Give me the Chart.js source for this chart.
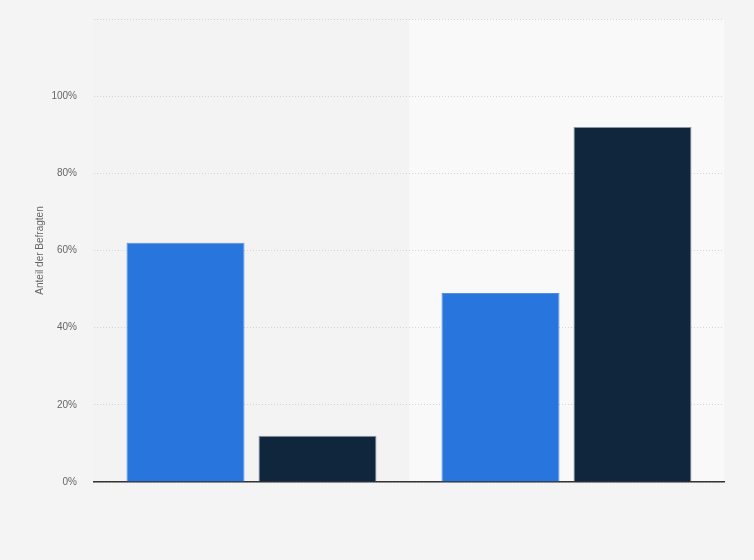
<!DOCTYPE html>
<html>
<head>
<meta charset="utf-8">
<script src="https://cdn.jsdelivr.net/npm/chart.js@4"></script>
<style>
  html, body { margin: 0; padding: 0; background: #f4f4f4; }
  #wrap { width: 754px; height: 560px; }
</style>
</head>
<body>
<div id="wrap"><canvas id="chart"></canvas></div>
<script>
// data
const categories = ['', ''];
const seriesA = [62, 49];
const seriesB = [12, 92];
const yTicks = [0, 20, 40, 60, 80, 100, 120];

// shaded band behind the second category + page background
const bandPlugin = {
    id: 'band',
    beforeDraw(chart) {
        const { ctx, chartArea, scales } = chart;
        ctx.save();
        ctx.fillStyle = '#f4f4f4';
        ctx.fillRect(0, 0, chart.width, chart.height);
        const mid = (scales.x.getPixelForValue(0) + scales.x.getPixelForValue(1)) / 2;
        ctx.fillStyle = '#f3f3f3';
        ctx.fillRect(chartArea.left, chartArea.top, mid - chartArea.left, chartArea.bottom - chartArea.top);
        ctx.fillStyle = '#f9f9f9';
        ctx.fillRect(mid, chartArea.top, chartArea.right - mid, chartArea.bottom - chartArea.top);
        ctx.restore();
    }
};

const ctx = document.getElementById('chart').getContext('2d');
new Chart(ctx, {
    type: 'bar',
    data: {
        labels: categories,
        datasets: [{
            data: seriesA,
            backgroundColor: '#2876dd',
            borderColor: '#4d8fe6',
            borderWidth: { top: 1, left: 1, right: 1, bottom: 0 },
            categoryPercentage: 0.838,
            barPercentage: 0.894
        }, {
            data: seriesB,
            backgroundColor: '#10263d',
            borderColor: '#8c97a3',
            borderWidth: { top: 1, left: 1, right: 1, bottom: 0 },
            categoryPercentage: 0.838,
            barPercentage: 0.894
        }]
    },
    options: {
        responsive: true,
        maintainAspectRatio: false,
        animation: false,
        layout: { padding: { top: 19, right: 30, bottom: 70, left: 0 } },
        plugins: {
            legend: { display: false },
            tooltip: { enabled: false }
        },
        scales: {
            x: {
                grid: { display: false },
                ticks: { display: false },
                border: { display: true, color: '#333333', width: 1.5 }
            },
            y: {
                min: 0,
                max: 120,
                afterFit(scale) {
                    scale.width = 94;
                    scale.paddingTop = 0;
                },
                afterBuildTicks(scale) { scale.ticks = yTicks.map(v => ({ value: v })); },
                ticks: {
                    padding: 17,
                    color: '#666666',
                    font: { family: 'Liberation Sans, Arial, sans-serif', size: 10 },
                    callback: v => v === 120 ? '' : v + '%'
                },
                grid: {
                    color: '#d4d4d4',
                    lineWidth: 1,
                    drawTicks: false
                },
                border: { display: false, dash: [1, 2] },
                title: {
                    display: true,
                    text: 'Anteil der Befragten',
                    color: '#666666',
                    font: { family: 'Liberation Sans, Arial, sans-serif', size: 10 },
                    padding: { top: 34, bottom: 0 }
                }
            }
        }
    },
    plugins: [bandPlugin]
});
</script>
</body>
</html>
